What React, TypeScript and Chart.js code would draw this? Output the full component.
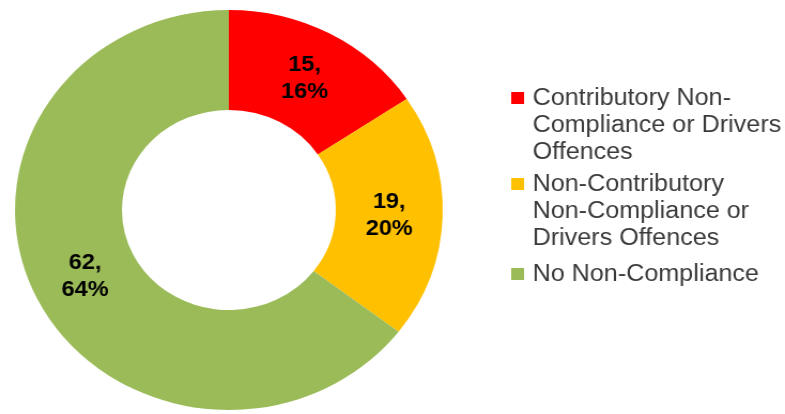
import React, { useEffect, useRef } from "react";
import { Chart, registerables } from "chart.js";

Chart.register(...registerables);

const categories: string[][] = [
  ["Contributory Non-", "Compliance or Drivers", "Offences"],
  ["Non-Contributory", "Non-Compliance or", "Drivers Offences"],
  ["No Non-Compliance"],
];
const counts: number[] = [15, 19, 62];
const percentLabels: string[] = ["16%", "20%", "64%"];
const colors: string[] = ["#FF0000", "#FFC000", "#9BBB59"];

const STRETCH = 1.07;
const W = 785;
const H = 414;
const IW = Math.round(W / STRETCH);

const labelPlugin = {
  id: "sliceLabels",
  afterDatasetsDraw(chart: any) {
    const ctx = chart.ctx;
    const meta = chart.getDatasetMeta(0);
    ctx.save();
    ctx.font = "bold 22px 'Liberation Sans', Arial, sans-serif";
    ctx.fillStyle = "#000000";
    ctx.textAlign = "center";
    ctx.textBaseline = "middle";
    meta.data.forEach((arc: any, i: number) => {
      const p = arc.tooltipPosition();
      ctx.fillText(counts[i] + ",", p.x, p.y - 13);
      ctx.fillText(percentLabels[i], p.x, p.y + 14);
    });
    ctx.restore();
  },
};

const legendPlugin = {
  id: "customLegend",
  afterDraw(chart: any) {
    const ctx = chart.ctx;
    const baselines = [105, 191, 281];
    const lineH = 27;
    const markerX = 478;
    const textX = 498;
    ctx.save();
    ctx.font = "23.5px 'Liberation Sans', Arial, sans-serif";
    ctx.textAlign = "left";
    ctx.textBaseline = "alphabetic";
    categories.forEach((lines, i) => {
      const b = baselines[i];
      ctx.fillStyle = colors[i];
      ctx.fillRect(markerX, b - 13, 12, 12);
      ctx.fillStyle = "#3a3a3a";
      lines.forEach((t, j) => ctx.fillText(t, textX, b + j * lineH));
    });
    ctx.restore();
  },
};

export default function App() {
  const ref = useRef<HTMLCanvasElement | null>(null);
  useEffect(() => {
    if (!ref.current) return;
    const chart = new Chart(ref.current, {
      type: "doughnut",
      data: {
        labels: categories.map((l) => l.join(" ")),
        datasets: [
          {
            data: counts,
            backgroundColor: colors,
            borderWidth: 0,
          },
        ],
      },
      options: {
        responsive: false,
        animation: false,
        cutout: "50%",
        layout: { padding: { left: 14, right: IW - 414, top: 10, bottom: 4 } },
        plugins: {
          legend: { display: false },
          tooltip: { enabled: false },
        },
        events: [],
      },
      plugins: [labelPlugin, legendPlugin],
    });
    return () => chart.destroy();
  }, []);
  return (
    <div style={{ position: "fixed", left: 0, top: 0, width: W, height: H, background: "#fff" }}>
      <canvas
        ref={ref}
        width={IW}
        height={H}
        style={{ width: W + "px", height: H + "px", display: "block" }}
      />
    </div>
  );
}
